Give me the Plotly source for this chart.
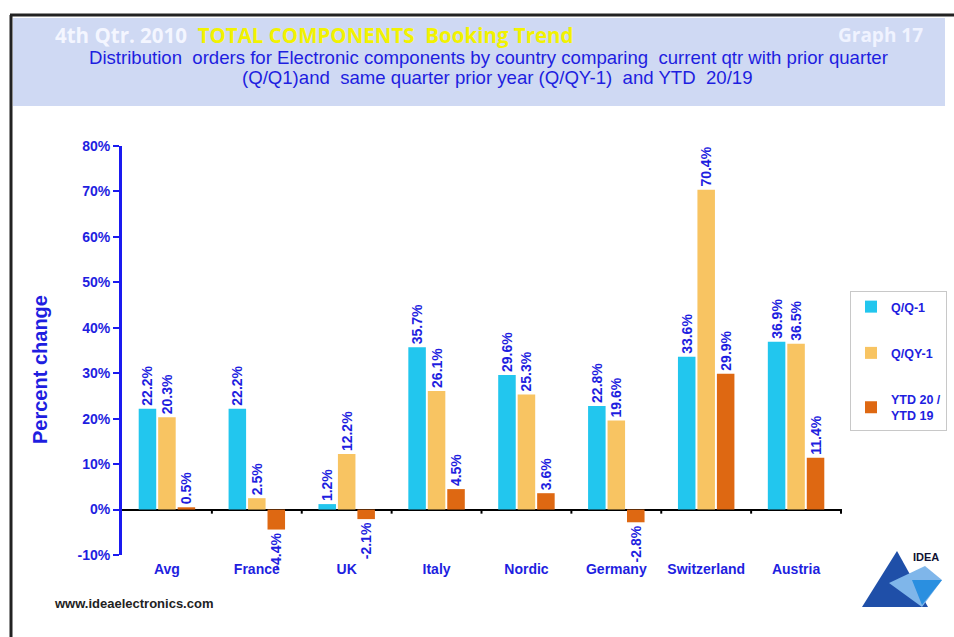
import plotly.graph_objects as go

countries = ["Avg", "France", "UK", "Italy", "Nordic", "Germany", "Switzerland", "Austria"]
qq1 = [22.2, 22.2, 1.2, 35.7, 29.6, 22.8, 33.6, 36.9]
qqy1 = [20.3, 2.5, 12.2, 26.1, 25.3, 19.6, 70.4, 36.5]
ytd = [0.5, -4.4, -2.1, 4.5, 3.6, -2.8, 29.9, 11.4]
series_names = ["Q/Q-1", "Q/QY-1", "YTD 20 /<br>YTD 19"]
series_colors = ["#22C6EE", "#F8C462", "#DE6812"]
y_ticks = [-10, 0, 10, 20, 30, 40, 50, 60, 70, 80]

W, H = 954, 637
L, R, T, B = 122, 112, 146, 82
BLUE = "#1E1EE0"

def px(x):
    return (x - L) / (W - L - R)

def py(y):
    return (H - B - y) / (H - T - B)

fig = go.Figure()
for name, vals, col in zip(series_names, [qq1, qqy1, ytd], series_colors):
    fig.add_trace(go.Bar(
        x=countries, y=vals, name=name, marker_color=col, marker_line_width=0,
        text=[f"{v:.1f}%" for v in vals], textposition="outside", textangle=-90,
        constraintext="none", cliponaxis=False,
        textfont=dict(family="Liberation Sans", size=14, color=BLUE, weight="bold"),
        legendgroup=name,
    ))

shapes = []
# frame
shapes.append(dict(type="line", xref="paper", yref="paper", x0=px(10), x1=px(954), y0=py(15), y1=py(15),
                   line=dict(color="#222222", width=3)))
shapes.append(dict(type="line", xref="paper", yref="paper", x0=px(11), x1=px(11), y0=py(15), y1=py(637),
                   line=dict(color="#222222", width=3)))
# header band
shapes.append(dict(type="rect", xref="paper", yref="paper", x0=px(13), x1=px(945), y0=py(18), y1=py(106),
                   fillcolor="#CFD9F3", line=dict(width=0), layer="below"))
# category boundary ticks on zero line
for i in range(len(countries)):
    shapes.append(dict(type="line", xref="x", yref="y", x0=i + 0.5, x1=i + 0.5, y0=0, y1=-0.9,
                       line=dict(color="black", width=2)))
# logo
shapes.append(dict(type="path", xref="paper", yref="paper",
                   path=f"M {px(862)} {py(607)} L {px(897)} {py(551)} L {px(928)} {py(607)} Z",
                   fillcolor="#1F4FA8", line=dict(width=0)))
shapes.append(dict(type="path", xref="paper", yref="paper",
                   path=f"M {px(889)} {py(583)} L {px(925)} {py(566)} L {px(942)} {py(580)} L {px(922)} {py(607)} Z",
                   fillcolor="#7FB6EA", line=dict(width=0)))
shapes.append(dict(type="path", xref="paper", yref="paper",
                   path=f"M {px(912)} {py(580)} L {px(942)} {py(580)} L {px(922)} {py(605)} Z",
                   fillcolor="#2A8FE0", line=dict(width=0)))

annotations = [
    dict(x=px(53), y=py(35), xref="paper", yref="paper", xanchor="left", yanchor="middle", showarrow=False,
         text="<span style='color:#F4F6FF'>4th Qtr. 2010  </span><span style='color:#F2F200'>TOTAL COMPONENTS  Booking Trend</span>",
         font=dict(family="Open Sans", size=20.5, weight="bold")),
    dict(x=px(925), y=py(35), xref="paper", yref="paper", xanchor="right", yanchor="middle", showarrow=False,
         text="Graph 17", font=dict(family="Open Sans", size=19, color="#F0F3FF", weight="bold")),
    dict(x=px(488), y=py(58), xref="paper", yref="paper", xanchor="center", yanchor="middle", showarrow=False,
         text="Distribution  orders for Electronic components by country comparing  current qtr with prior quarter",
         font=dict(family="Liberation Sans", size=18.6, color=BLUE)),
    dict(x=px(497), y=py(77), xref="paper", yref="paper", xanchor="center", yanchor="middle", showarrow=False,
         text="(Q/Q1)and  same quarter prior year (Q/QY-1)  and YTD  20/19",
         font=dict(family="Liberation Sans", size=18.6, color=BLUE)),
    dict(x=px(40), y=py(370), xref="paper", yref="paper", xanchor="center", yanchor="middle", showarrow=False,
         text="Percent change", textangle=-90,
         font=dict(family="Liberation Sans", size=20, color=BLUE, weight="bold")),
    dict(x=px(52), y=py(603), xref="paper", yref="paper", xanchor="left", yanchor="middle", showarrow=False,
         text="www.ideaelectronics.com",
         font=dict(family="Liberation Sans", size=13, color="#222222", weight="bold")),
    dict(x=px(926), y=py(557), xref="paper", yref="paper", xanchor="center", yanchor="middle", showarrow=False,
         text="IDEA", font=dict(family="Liberation Sans", size=11, color="#111133", weight="bold")),
]

fig.update_layout(
    width=W, height=H,
    margin=dict(l=L, r=R, t=T, b=B, autoexpand=False),
    paper_bgcolor="white", plot_bgcolor="white",
    barmode="group", bargap=0.35, bargroupgap=0.1,
    showlegend=True,
    legend=dict(x=px(850), y=py(291), xanchor="left", yanchor="top",
                bgcolor="white", bordercolor="#C8C8C8", borderwidth=1,
                font=dict(family="Liberation Sans", size=12.5, color=BLUE, weight="bold"),
                tracegroupgap=27, itemwidth=30, traceorder="grouped"),
    xaxis=dict(showline=False, showgrid=False, ticks="", ticklabelstandoff=4,
               tickfont=dict(family="Liberation Sans", size=14, color=BLUE, weight="bold")),
    yaxis=dict(range=[-10, 80], tickvals=y_ticks, ticktext=[f"{v}%" for v in y_ticks],
               showgrid=False, zeroline=True, zerolinecolor="black", zerolinewidth=2,
               showline=True, linecolor="#1A1AF0", linewidth=3,
               ticks="outside", ticklen=6, tickwidth=2, tickcolor="#1A1AF0",
               tickfont=dict(family="Liberation Sans", size=14, color=BLUE, weight="bold")),
    shapes=shapes, annotations=annotations,
)

fig.write_html("out.html")
